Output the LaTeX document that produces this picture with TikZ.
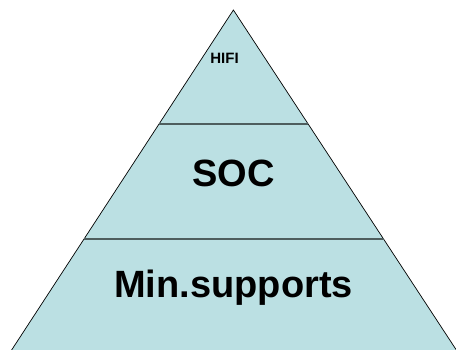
\documentclass[tikz,border=0pt]{standalone}
\usepackage{fontspec}
\setmainfont{Liberation Sans}
\usepackage{tikz}

\definecolor{layerfill}{HTML}{BBE0E3}
\definecolor{divider}{HTML}{4E5E5E}

\begin{document}
\begin{tikzpicture}[x=1pt, y=-1pt, font=\bfseries,
	label/.style={inner sep=0pt, anchor=base},
	split/.style={draw=divider, line width=2pt}]
\useasboundingbox (0,0) rectangle (456,349);
\clip (0,0) rectangle (456,349);
% pyramid
\coordinate (top) at (233.4,10);
\coordinate (baseL) at (5.1,360);
\coordinate (baseR) at (462.9,360);
\filldraw[fill=layerfill, draw=black, line width=0.7pt] (top) -- (baseL) -- (baseR) -- cycle;
% layers
\coordinate (oneL) at (159.2,124);
\coordinate (oneR) at (307.6,124);
\coordinate (twoL) at (84.2,239);
\coordinate (twoR) at (383.6,239);
\draw[split] (oneL) -- (oneR);
\draw[split] (twoL) -- (twoR);
\node[label, font=\bfseries\fontsize{15}{18}\selectfont] (hifi) at (224.5,63.5) {HIFI};
\node[label, font=\bfseries\fontsize{38}{44}\selectfont] (soc) at (233.5,186) {SOC};
\node[label, font=\bfseries\fontsize{38}{44}\selectfont] (minsup) at (233.5,297.5) {Min.supports};
\end{tikzpicture}
\end{document}
